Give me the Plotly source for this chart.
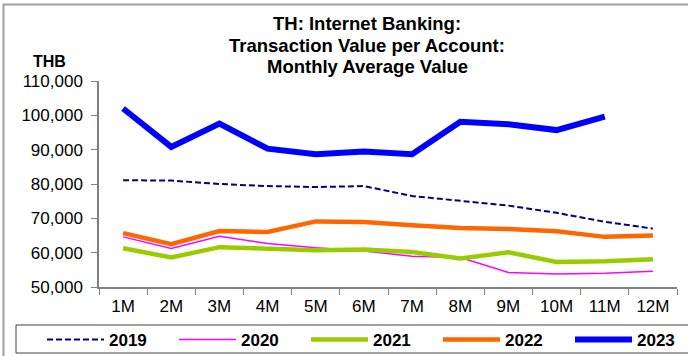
import plotly.graph_objects as go

months = ["1M", "2M", "3M", "4M", "5M", "6M", "7M", "8M", "9M", "10M", "11M", "12M"]

v2019 = [81100, 81000, 80000, 79400, 79100, 79400, 76500, 75000, 73700, 71600, 69000, 67000]
v2020 = [64600, 61200, 64800, 62650, 61400, 60500, 58950, 58600, 54200, 53800, 54000, 54600]
v2021 = [61300, 58600, 61600, 61000, 60700, 60900, 60200, 58300, 60100, 57300, 57500, 58100]
v2022 = [65700, 62450, 66300, 66000, 69100, 68950, 68000, 67200, 66900, 66250, 64600, 65000]
v2023 = [102000, 90800, 97600, 90300, 88700, 89500, 88700, 98100, 97400, 95700, 99600]

y_ticks = [50000, 60000, 70000, 80000, 90000, 100000, 110000]

title_lines = ["TH: Internet Banking:", "Transaction Value per Account:", "Monthly Average Value"]

FONT = "Liberation Sans, Arial, sans-serif"

W, H = 688, 356
L, R, T, B = 99, 11, 81, 69
PW, PH = W - L - R, H - T - B


def px_x(p):
    return (p - L) / PW


def px_y(p):
    return (H - B - p) / PH


series = [
    ("2019", v2019, dict(color="#000080", width=2, dash="6px,3px")),
    ("2020", v2020, dict(color="#FF00FF", width=1.5)),
    ("2021", v2021, dict(color="#99CC00", width=4.5)),
    ("2022", v2022, dict(color="#FF6600", width=4.5)),
    ("2023", v2023, dict(color="#0000FF", width=6)),
]

fig = go.Figure()
for name, vals, line in series:
    fig.add_trace(go.Scatter(
        x=months[:len(vals)], y=vals, name=name, mode="lines",
        line=line,
    ))

annotations = [
    dict(
        text=line, xref="paper", yref="paper", x=px_x(367), y=px_y(24 + 21 * i),
        xanchor="center", yanchor="middle", showarrow=False,
        font=dict(family=FONT, size=18.5, color="black", weight="bold"),
    )
    for i, line in enumerate(title_lines)
]
annotations.append(dict(
    text="THB", xref="paper", yref="paper", x=px_x(31), y=px_y(61),
    xanchor="left", yanchor="middle", showarrow=False,
    font=dict(family=FONT, size=16, color="black", weight="bold"),
))

fig.update_layout(
    width=W, height=H,
    margin=dict(l=L, r=R, t=T, b=B, autoexpand=False),
    paper_bgcolor="white", plot_bgcolor="white",
    font=dict(family=FONT, size=17, color="black"),
    showlegend=True,
    legend=dict(
        orientation="h", x=px_x(42), xanchor="left",
        y=px_y(340), yanchor="middle",
        itemwidth=57, entrywidth=60, entrywidthmode="pixels",
        font=dict(family=FONT, size=17, color="black", weight="bold"),
        bgcolor="rgba(0,0,0,0)", borderwidth=0,
        tracegroupgap=0,
    ),
    xaxis=dict(
        type="category", categoryorder="array", categoryarray=months,
        range=[-0.5, 11.5],
        showline=True, linecolor="#808080", linewidth=1.5,
        ticks="outside", tickson="boundaries", ticklen=6, tickcolor="#808080",
        ticklabelstandoff=3,
        showgrid=False, zeroline=False,
        tickfont=dict(size=17),
    ),
    yaxis=dict(
        range=[50000, 110000], tickvals=y_ticks,
        tickformat=",d",
        showline=True, linecolor="#808080", linewidth=1.5,
        ticks="outside", ticklen=6, tickcolor="#808080",
        ticklabelstandoff=5,
        showgrid=False, zeroline=False,
        tickfont=dict(size=17),
    ),
    annotations=annotations,
    shapes=[
        # outer chart frame
        dict(type="rect", xref="paper", yref="paper",
             x0=px_x(3.5), x1=px_x(700), y0=px_y(4.5), y1=px_y(370),
             line=dict(color="#A0A0A0", width=2), fillcolor="rgba(0,0,0,0)", layer="below"),
        # legend frame
        dict(type="rect", xref="paper", yref="paper",
             x0=px_x(16), x1=px_x(700), y0=px_y(325), y1=px_y(353),
             line=dict(color="#404040", width=1), fillcolor="rgba(0,0,0,0)"),
    ],
)

fig.write_html("out.html")
